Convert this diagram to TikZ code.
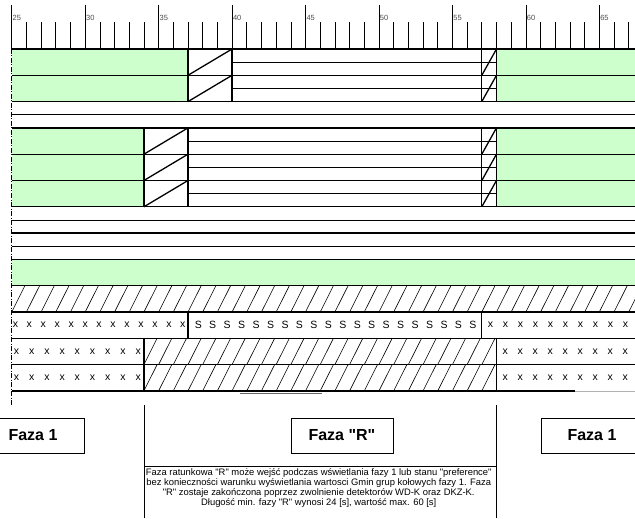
\documentclass[tikz,border=0pt]{standalone}
\usepackage{fontspec}
\newfontfamily\plainsans{Liberation Sans}
\usetikzlibrary{positioning}
\definecolor{phasegreen}{HTML}{CCFFCC}

\begin{document}
\plainsans
\begin{tikzpicture}[x=14.69pt, y=-1pt,
    thin line/.style={line width=0.6pt},
    row line/.style={line width=1.3pt},
    hatch/.style={line width=0.6pt},
    cell char/.style={font=\plainsans\fontsize{10.5}{12}\selectfont, inner sep=0pt},
    tick label/.style={anchor=west, inner sep=0.8pt, text=black!70, font=\plainsans\fontsize{7.5}{8}\selectfont},
    phase box/.style={draw, line width=0.8pt, minimum width=102pt, minimum height=35pt, font=\plainsans\bfseries\fontsize{16}{18}\selectfont},
    note/.style={align=center, inner sep=0pt, font=\plainsans\fontsize{9.4}{10}\selectfont}]
    \useasboundingbox (24.2035,0) rectangle (67.43,518);

    % Green signal fields
    \fill[phasegreen] (25,49) rectangle (37,101.6);
    \fill[phasegreen] (58,49) rectangle (67.43,101.6);
    \fill[phasegreen] (25,127.9) rectangle (34,206.8);
    \fill[phasegreen] (58,127.9) rectangle (67.43,206.8);
    \fill[phasegreen] (25,259.4) rectangle (67.43,285.7);

    % Hatched fields
    \begin{scope}
        \clip (25,285.7) rectangle (67.43,312);
        \foreach \t in {24,...,67} \draw[hatch] (\t,312) -- (\t+0.9,285.7);
    \end{scope}
    \begin{scope}
        \clip (34,338.3) rectangle (58,390.9);
        \foreach \t in {34,...,57} {
            \draw[hatch] (\t,364.6) -- (\t+0.9,338.3);
            \draw[hatch] (\t,390.9) -- (\t+0.9,364.6);
        }
    \end{scope}

    % Middle lines of the rows
    \foreach \y in {62.15,88.45} \draw[thin line] (40,\y) -- (58,\y);
    \foreach \y in {141.05,167.35,193.65} \draw[thin line] (37,\y) -- (58,\y);
    \foreach \y in {114.75,219.95,246.25} \draw[thin line] (25,\y) -- (67.43,\y);

    % Time scale
    \foreach \t in {25,...,67} \draw[thin line] (\t,22) -- (\t,49);
    \foreach \t in {25,30,...,65} {
        \draw[thin line] (\t,5) -- (\t,22);
        \node[tick label] (lbl\t) at (\t,17.5) {\t};
    }
    \draw[thin line, dash pattern=on 5pt off 1.5pt on 1pt off 1.5pt] (25,49) -- (25,406);

    % Row borders
    \foreach \i in {0,...,12} \draw[row line] (25,{49+26.3*\i}) -- (67.43,{49+26.3*\i});
    \draw[row line] (25,390.9) -- (63.35,390.9);
    \draw[gray!60, line width=0.8pt] (63.35,390.9) -- (67.43,390.9);
    \draw[black!60, line width=1.2pt] (40.54,393.3) -- (46.12,393.3);

    % Transitions
    \foreach \ya/\yb in {49/75.3, 75.3/101.6} {
        \draw[row line] (37,\ya) -- (37,\yb) (40,\ya) -- (40,\yb);
        \draw[row line] (57,\ya) -- (57,\yb) (58,\ya) -- (58,\yb);
        \draw[row line] (37,\yb) -- (40,\ya);
        \draw[row line] (57,\yb) -- (58,\ya);
    }
    \foreach \ya/\yb in {127.9/154.2, 154.2/180.5, 180.5/206.8} {
        \draw[row line] (34,\ya) -- (34,\yb) (37,\ya) -- (37,\yb);
        \draw[row line] (57,\ya) -- (57,\yb) (58,\ya) -- (58,\yb);
        \draw[row line] (34,\yb) -- (37,\ya);
        \draw[row line] (57,\yb) -- (58,\ya);
    }
    \draw[row line] (37,312) -- (37,338.3) (57,312) -- (57,338.3);
    \draw[row line] (34,338.3) -- (34,390.9) (58,338.3) -- (58,390.9);

    % Row with x and S marks
    \foreach \k in {0,...,12} \node[cell char] (xa\k) at ({25.25+0.95*\k},325.15) {x};
    \foreach \k in {0,...,19} \node[cell char] (sa\k) at ({37.7+0.984*\k},325.15) {S};
    \foreach \k in {0,...,9} \node[cell char] (xb\k) at ({57.6+1.02*\k},325.15) {x};

    % Rows with x marks
    \foreach \y in {351.45,377.75} {
        \foreach \k in {0,...,8} \node[cell char] at ({25.33+1.035*\k},\y) {x};
        \foreach \k in {0,...,8} \node[cell char] at ({58.6+1.02*\k},\y) {x};
    }

    % Phase boxes
    \node[phase box] (faza1a) at (26.45,435.5) {Faza 1};
    \node[phase box] (fazar) at (47.48,435.5) {Faza "R"};
    \node[phase box] (faza1b) at (64.5,435.5) {Faza 1};

    % Description of phase R
    \draw[thin line] (34,405) -- (34,518);
    \draw[thin line] (58,405) -- (58,518);
    \draw[thin line] (34,466) -- (58,466);
    \node[note] (opis) at (45.9,488.5) {Faza ratunkowa "R" może wejść podczas wświetlania fazy 1 lub stanu "preference"\\
        bez konieczności warunku wyświetlania wartosci Gmin grup kołowych fazy 1. Faza\\
        "R" zostaje zakończona poprzez zwolnienie detektorów WD-K oraz DKZ-K.\\
        Długość min. fazy "R" wynosi 24 [s], wartość max. 60 [s]};
\end{tikzpicture}
\end{document}
